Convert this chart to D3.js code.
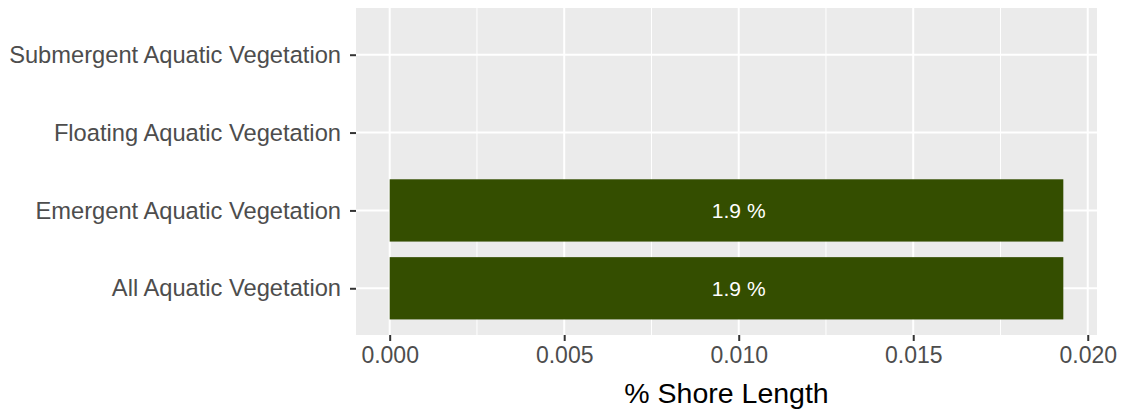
<!DOCTYPE html>
<html>
<head>
<meta charset="utf-8">
<script src="https://cdn.jsdelivr.net/npm/d3@7"></script>
<style>
  html, body { margin: 0; padding: 0; background: #ffffff; }
  svg { display: block; overflow: hidden; }
  text { font-family: "Liberation Sans", Arial, Helvetica, sans-serif; }
</style>
</head>
<body>
<svg id="chart" width="1130" height="413"></svg>
<script>
// ---- data ----
const categories = ["Submergent Aquatic Vegetation", "Floating Aquatic Vegetation", "Emergent Aquatic Vegetation", "All Aquatic Vegetation"];
const values = [null, null, 0.0193, 0.0193];
const barLabels = [null, null, "1.9 %", "1.9 %"];
const labelValue = 0.010;   // x value (data units) where the bar labels sit
const xTicks = [0.000, 0.005, 0.010, 0.015, 0.020];
const xTickLabels = ["0.000", "0.005", "0.010", "0.015", "0.020"];
const xMinorTicks = [0.0025, 0.0075, 0.0125, 0.0175];
const xTitle = "% Shore Length";

// ---- layout ----
const svg = d3.select("#chart");
const panel = { left: 356, right: 1097, top: 8, bottom: 335 };

const xmax = d3.max(values.filter(v => v != null));
const pad = 0.05 * xmax;
const x = d3.scaleLinear().domain([-pad, xmax + pad]).range([panel.left, panel.right]);
const y = d3.scalePoint().domain(categories).range([panel.top, panel.bottom]).padding(0.6);
const barH = 0.8 * y.step();

// panel background
svg.append("rect")
  .attr("x", panel.left).attr("y", panel.top)
  .attr("width", panel.right - panel.left).attr("height", panel.bottom - panel.top)
  .attr("fill", "#EBEBEB");

// minor gridlines
svg.append("g").selectAll("line").data(xMinorTicks).join("line")
  .attr("x1", d => x(d)).attr("x2", d => x(d))
  .attr("y1", panel.top).attr("y2", panel.bottom)
  .attr("stroke", "#ffffff").attr("stroke-width", 1);

// major gridlines
svg.append("g").selectAll("line").data(xTicks).join("line")
  .attr("x1", d => x(d)).attr("x2", d => x(d))
  .attr("y1", panel.top).attr("y2", panel.bottom)
  .attr("stroke", "#ffffff").attr("stroke-width", 2);
svg.append("g").selectAll("line").data(categories).join("line")
  .attr("x1", panel.left).attr("x2", panel.right)
  .attr("y1", d => y(d)).attr("y2", d => y(d))
  .attr("stroke", "#ffffff").attr("stroke-width", 2);

// bars
const rows = categories.map((c, i) => ({ c, v: values[i], label: barLabels[i] }));
svg.append("g").selectAll("rect").data(rows.filter(d => d.v != null)).join("rect")
  .attr("x", x(0))
  .attr("y", d => y(d.c) - barH / 2)
  .attr("width", d => x(d.v) - x(0))
  .attr("height", barH)
  .attr("fill", "#344E00");

// bar labels
svg.append("g").selectAll("text").data(rows.filter(d => d.label != null)).join("text")
  .attr("x", x(labelValue))
  .attr("y", d => y(d.c))
  .attr("dy", "0.35em")
  .attr("text-anchor", "middle")
  .attr("font-size", 21)
  .attr("fill", "#ffffff")
  .text(d => d.label);

// x axis
const xAxis = d3.axisBottom(x).tickValues(xTicks)
  .tickFormat((d, i) => xTickLabels[i]).tickSize(6).tickPadding(6);
const gx = svg.append("g").attr("transform", `translate(0,${panel.bottom})`).call(xAxis);
gx.select(".domain").remove();
gx.selectAll(".tick line").attr("stroke", "#333333").attr("stroke-width", 2);
gx.selectAll(".tick text").attr("font-size", 23).attr("fill", "#4D4D4D")
  .attr("font-family", "Liberation Sans, Arial, sans-serif");

// y axis
const yAxis = d3.axisLeft(y).tickSize(6).tickPadding(9);
const gy = svg.append("g").attr("transform", `translate(${panel.left},0)`).call(yAxis);
gy.select(".domain").remove();
gy.selectAll(".tick line").attr("stroke", "#333333").attr("stroke-width", 2);
gy.selectAll(".tick text").attr("font-size", 23.7).attr("fill", "#4D4D4D")
  .attr("font-family", "Liberation Sans, Arial, sans-serif");

// x title
svg.append("text")
  .attr("x", (panel.left + panel.right) / 2)
  .attr("y", 403)
  .attr("text-anchor", "middle")
  .attr("font-size", 28.5)
  .attr("fill", "#000000")
  .text(xTitle);
</script>
</body>
</html>
